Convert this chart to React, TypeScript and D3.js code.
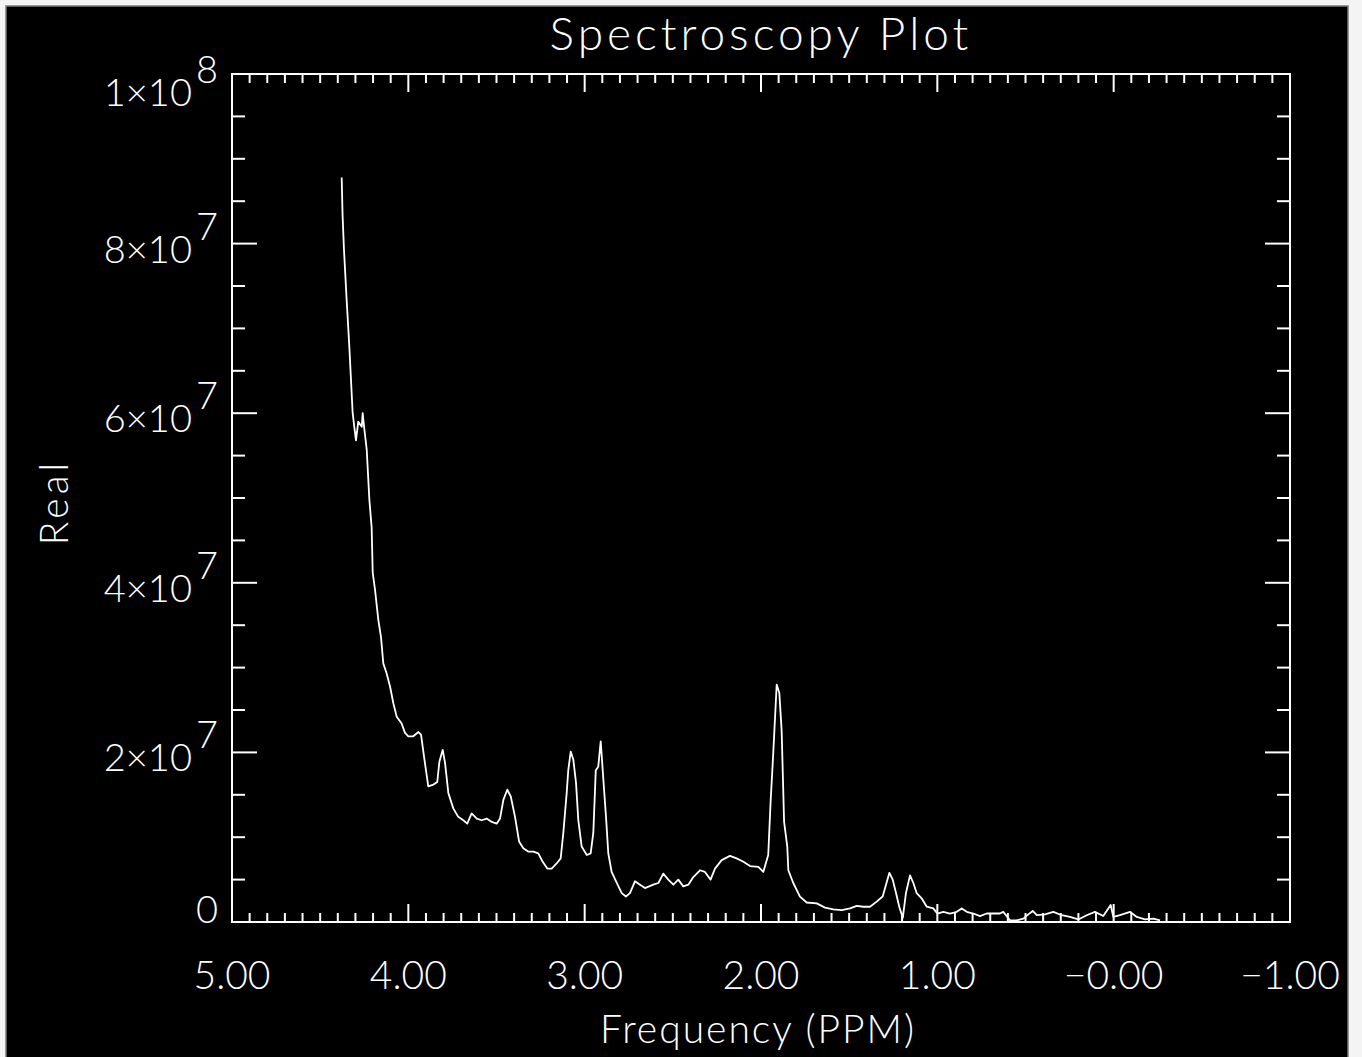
import React from "react";
import * as d3 from "d3";

// ---- data ----
const ppm: number[] = [
  4.378, 4.373, 4.365, 4.35, 4.335, 4.321, 4.316, 4.306, 4.297, 4.284, 4.264, 4.259, 4.251, 4.236,
  4.221, 4.208, 4.202, 4.189, 4.17, 4.155, 4.142, 4.123, 4.104, 4.085, 4.066, 4.038, 4.019, 4.0,
  3.972, 3.943, 3.928, 3.911, 3.887, 3.858, 3.836, 3.824, 3.805, 3.792, 3.773, 3.745, 3.717, 3.688,
  3.666, 3.641, 3.612, 3.584, 3.556, 3.527, 3.499, 3.48, 3.461, 3.439, 3.419, 3.395, 3.372, 3.348,
  3.32, 3.291, 3.263, 3.238, 3.212, 3.187, 3.159, 3.136, 3.121, 3.102, 3.093, 3.079, 3.064, 3.049,
  3.036, 3.017, 2.988, 2.966, 2.951, 2.937, 2.923, 2.909, 2.894, 2.879, 2.866, 2.847, 2.818, 2.79,
  2.766, 2.743, 2.715, 2.686, 2.658, 2.611, 2.582, 2.554, 2.526, 2.497, 2.469, 2.441, 2.412, 2.384,
  2.346, 2.318, 2.286, 2.261, 2.223, 2.176, 2.138, 2.1, 2.062, 2.015, 1.987, 1.959, 1.945, 1.93,
  1.911, 1.896, 1.883, 1.869, 1.851, 1.845, 1.817, 1.779, 1.741, 1.684, 1.637, 1.59, 1.542, 1.495,
  1.457, 1.42, 1.382, 1.344, 1.31, 1.291, 1.272, 1.253, 1.234, 1.216, 1.196, 1.178, 1.155, 1.136,
  1.117, 1.089, 1.06, 1.023, 1.0, 0.966, 0.928, 0.89, 0.862, 0.833, 0.796, 0.758, 0.72, 0.682,
  0.645, 0.626, 0.588, 0.55, 0.512, 0.484, 0.459, 0.436, 0.389, 0.342, 0.295, 0.248, 0.2, 0.153,
  0.106, 0.059, 0.017, 0.002, -0.036, -0.093, -0.131, -0.178, -0.225, -0.263,
];

// Real part, in millions
const realMillions: number[] = [
  87.8, 83.4, 79.3, 73.4, 68.0, 62.2, 60.1, 58.3, 56.8, 59.0, 58.4, 60.0, 58.4, 55.7,
  49.8, 46.5, 41.2, 39.2, 35.6, 33.6, 30.5, 29.3, 27.8, 25.8, 24.2, 23.4, 22.3, 21.9,
  21.9, 22.4, 22.1, 19.5, 16.0, 16.2, 16.5, 18.9, 20.3, 18.8, 15.2, 13.4, 12.4, 12.0,
  11.6, 12.8, 12.2, 12.0, 12.2, 11.8, 11.6, 12.2, 14.4, 15.6, 14.8, 12.4, 9.5, 8.7,
  8.3, 8.3, 8.1, 7.1, 6.3, 6.3, 6.9, 7.5, 10.5, 15.2, 17.9, 20.1, 19.1, 16.4,
  12.0, 8.9, 7.9, 8.1, 10.5, 17.9, 18.3, 21.3, 16.8, 12.4, 8.1, 5.9, 4.6, 3.4,
  3.0, 3.4, 4.8, 4.4, 4.0, 4.4, 4.6, 5.7, 5.0, 4.4, 5.0, 4.2, 4.4, 5.3,
  6.1, 5.9, 5.0, 6.3, 7.3, 7.8, 7.5, 7.1, 6.6, 6.5, 5.9, 7.9, 14.4, 20.1,
  28.0, 27.0, 22.6, 11.8, 8.9, 6.1, 4.6, 3.0, 2.3, 2.2, 1.7, 1.5, 1.4, 1.6,
  1.9, 1.8, 1.8, 2.4, 3.0, 4.4, 5.8, 5.0, 3.4, 1.8, 0.5, 3.4, 5.5, 4.6,
  3.4, 2.8, 1.8, 1.6, 1.0, 1.2, 1.0, 1.2, 1.6, 1.2, 1.0, 0.7, 1.0, 1.0,
  1.0, 1.2, 0.2, 0.2, 0.4, 0.9, 1.3, 0.8, 0.9, 1.2, 0.8, 0.6, 0.3, 0.8,
  1.2, 0.7, 2.0, 0.6, 0.8, 1.2, 0.6, 0.3, 0.4, 0.2,
];

const xMajorTicks: number[] = [5, 4, 3, 2, 1, 0, -1];
const xTickLabels: string[] = ["5.00", "4.00", "3.00", "2.00", "1.00", "\u22120.00", "\u22121.00"];
const yMajorTicks: number[] = [0, 2e7, 4e7, 6e7, 8e7, 1e8];
const yTickMantissa: string[] = ["0", "2\u00d710", "4\u00d710", "6\u00d710", "8\u00d710", "1\u00d710"];
const yTickExponent: string[] = ["", "7", "7", "7", "7", "8"];

const TITLE = "Spectroscopy Plot";
const X_TITLE = "Frequency (PPM)";
const Y_TITLE = "Real";

const FONT = "Lato, 'Liberation Sans', 'DejaVu Sans', sans-serif";

export default function App() {
  const W = 1362;
  const H = 1057;
  const L = 232, R = 1290, T = 74, B = 922;

  const x = d3.scaleLinear().domain([5, -1]).range([L, R]);
  const y = d3.scaleLinear().domain([0, 1e8]).range([B, T]);

  const pts: [number, number][] = ppm.map((p, i) => [p, realMillions[i] * 1e6]);
  const line = d3
    .line<[number, number]>()
    .x((d) => x(d[0]))
    .y((d) => y(d[1]));

  const xMinor = d3.range(0, 61).map((i) => 5 - i * 0.1).filter((v) => Math.abs(v - Math.round(v)) > 1e-6);
  const yMinor = d3.range(0, 21).map((i) => i * 5e6).filter((v) => v % 2e7 !== 0);

  const XMAJ = 18, XMIN = 9, YMAJ = 25, YMIN = 13;
  const stroke = "#ffffff";

  return (
    <svg
      width={W}
      height={H}
      style={{ position: "absolute", left: 0, top: 0, display: "block" }}
      fontFamily={FONT}
    >
      <rect x={0} y={0} width={W} height={H} fill="#f4f4f4" />
      <rect x={6} y={6} width={1342} height={H} fill="#000" stroke="#7a7a7a" strokeWidth={1.5} />

      {/* title */}
      <text x={761} y={50} fill="#fff" fontSize={46} fontWeight={300} textAnchor="middle" letterSpacing={4}>
        {TITLE}
      </text>

      {/* frame */}
      <rect x={L} y={T} width={R - L} height={B - T} fill="none" stroke={stroke} strokeWidth={2} />

      {/* x ticks bottom & top */}
      {xMajorTicks.map((v) => (
        <g key={"xM" + v}>
          <line x1={x(v)} x2={x(v)} y1={B} y2={B - XMAJ} stroke={stroke} strokeWidth={2} />
          <line x1={x(v)} x2={x(v)} y1={T} y2={T + XMAJ} stroke={stroke} strokeWidth={2} />
        </g>
      ))}
      {xMinor.map((v, i) => (
        <g key={"xm" + i}>
          <line x1={x(v)} x2={x(v)} y1={B} y2={B - XMIN} stroke={stroke} strokeWidth={2} />
          <line x1={x(v)} x2={x(v)} y1={T} y2={T + XMIN} stroke={stroke} strokeWidth={2} />
        </g>
      ))}
      {xMajorTicks.map((v, i) => (
        <text key={"xl" + v} x={x(v)} y={989} fill="#fff" fontSize={39} fontWeight={300} textAnchor="middle">
          {xTickLabels[i]}
        </text>
      ))}

      {/* y ticks left & right */}
      {yMajorTicks.map((v) => (
        <g key={"yM" + v}>
          <line x1={L} x2={L + YMAJ} y1={y(v)} y2={y(v)} stroke={stroke} strokeWidth={2} />
          <line x1={R} x2={R - YMAJ} y1={y(v)} y2={y(v)} stroke={stroke} strokeWidth={2} />
        </g>
      ))}
      {yMinor.map((v, i) => (
        <g key={"ym" + i}>
          <line x1={L} x2={L + YMIN} y1={y(v)} y2={y(v)} stroke={stroke} strokeWidth={2} />
          <line x1={R} x2={R - YMIN} y1={y(v)} y2={y(v)} stroke={stroke} strokeWidth={2} />
        </g>
      ))}
      {yMajorTicks.map((v, i) => {
        const off = v === 0 ? 1 : v === 1e8 ? 32 : 19;
        return (
          <text key={"yl" + v} x={218} y={y(v) + off} fill="#fff" fontSize={38} fontWeight={300} textAnchor="end">
            {yTickMantissa[i]}
            {yTickExponent[i] ? (
              <tspan dx={4} dy={-23}>
                {yTickExponent[i]}
              </tspan>
            ) : null}
          </text>
        );
      })}

      {/* axis titles */}
      <text x={758} y={1043} fill="#fff" fontSize={39} fontWeight={300} textAnchor="middle" letterSpacing={2}>
        {X_TITLE}
      </text>
      <text
        transform={`translate(68,502) rotate(-90)`}
        fill="#fff"
        fontSize={39}
        fontWeight={300}
        textAnchor="middle"
        letterSpacing={4}
      >
        {Y_TITLE}
      </text>

      {/* data */}
      <path d={line(pts) || ""} fill="none" stroke="#fff" strokeWidth={1.8} strokeLinejoin="round" />
    </svg>
  );
}
